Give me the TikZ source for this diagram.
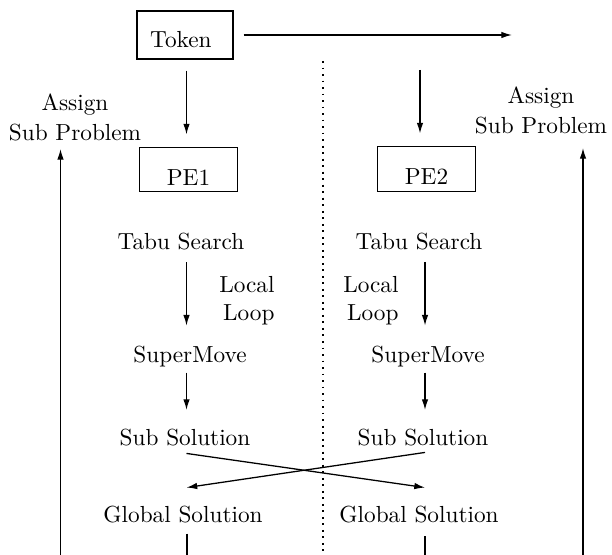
\documentclass[tikz,border=0pt]{standalone}
\usetikzlibrary{arrows.meta,calc}
\begin{document}
\begin{tikzpicture}[x=0.43pt,y=-0.43pt,
  lbl/.style={inner sep=0pt, text height=7pt, text depth=2pt},
  two/.style={inner sep=0pt},
  tokbox/.style={draw, line width=0.6pt, inner xsep=5.6pt, inner ysep=0pt,
     text width=30pt, align=left, text height=15.85pt, text depth=4.75pt},
  pebox/.style={draw, line width=0.6pt, inner xsep=0pt, inner ysep=0pt,
     text width=42.2pt, align=center, text height=16.3pt, text depth=2.8pt},
  arr/.style={line width=0.55pt, -{Latex[length=4.6pt,width=2.8pt]}},
  ln/.style={line width=0.55pt},
  dotline/.style={line width=0.8pt, dash pattern=on 0.8pt off 2pt}]
\useasboundingbox (0,0) rectangle (612,555);

% columns
\coordinate (colL) at (186.5,0);
\coordinate (colR) at (425,0);

% boxes
\node[tokbox] (tok) at (185,35) {Token};
\node[pebox] (pe1) at (188.5,169.5) {PE1};
\node[pebox] (pe2) at (426.5,169) {PE2};

% labels
\node[two, align=center] (asgL) at (75,117) {Assign\\[0.9pt]Sub Problem};
\node[two, align=center] (asgR) at (541,110) {Assign\\[0.9pt]Sub Problem};

\node[lbl] (tabuL) at (181,244) {Tabu Search};
\node[lbl] (tabuR) at (419,244) {Tabu Search};
\node[two, align=right, anchor=east] (locL) at (275,301) {Local\\Loop};
\node[two, align=right, anchor=east] (locR) at (399,301) {Local\\Loop};
\node[lbl] (smL) at (190,357) {SuperMove};
\node[lbl] (smR) at (428,357) {SuperMove};
\node[lbl] (subL) at (185,440) {Sub Solution};
\node[lbl] (subR) at (423,440) {Sub Solution};
\node[lbl] (globL) at (183,517) {Global Solution};
\node[lbl] (globR) at (419,517) {Global Solution};

% free ends
\coordinate (tokEnd) at (512,35);
\coordinate (pe2in) at (420,70);
\coordinate (botL) at (60.5,555);
\coordinate (botR) at (583,555);
\coordinate (endL) at (187,555);
\coordinate (endR) at (425,555);
\coordinate (dotTop) at (323,61);
\coordinate (dotBot) at (323,555);

% dotted separator
\draw[dotline] (dotTop) -- (dotBot);

% token connections
\draw[arr, shorten <=4.3pt] (tok.east) -- (tokEnd);
\draw[arr, shorten <=4.7pt, shorten >=5.2pt] (tok.south -| colL) -- (pe1.north -| colL);
\draw[arr, shorten >=5.4pt] (pe2in) -- (pe2.north -| pe2in);

% assign arrows
\draw[arr, shorten >=3.4pt] (botL) -- (asgL.south -| botL);
\draw[arr, shorten >=6pt] (botR) -- (asgR.south -| botR);

% left column
\draw[arr, shorten <=3.2pt, shorten >=8.8pt] (tabuL.south -| colL) -- (smL.north -| colL);
\draw[arr, shorten <=2pt, shorten >=8.2pt] (smL.south -| colL) -- (subL.north -| colL);
% right column
\draw[arr, shorten <=3pt, shorten >=8.8pt] (tabuR.south -| colR) -- (smR.north -| colR);
\draw[arr, shorten <=2pt, shorten >=8.2pt] (smR.south -| colR) -- (subR.north -| colR);

% cross exchange
\draw[arr] ($(subL.south -| colL)+(0,2.5)$) -- ($(globR.north -| colR)+(0,-18.5)$);
\draw[arr] ($(subR.south -| colR)+(0,1.5)$) -- ($(globL.north -| colL)+(0,-18.5)$);

% down from global solutions
\draw[ln, shorten <=2.4pt] (globL.south -| endL) -- (endL);
\draw[ln, shorten <=3.6pt] (globR.south -| endR) -- (endR);
\end{tikzpicture}
\end{document}
